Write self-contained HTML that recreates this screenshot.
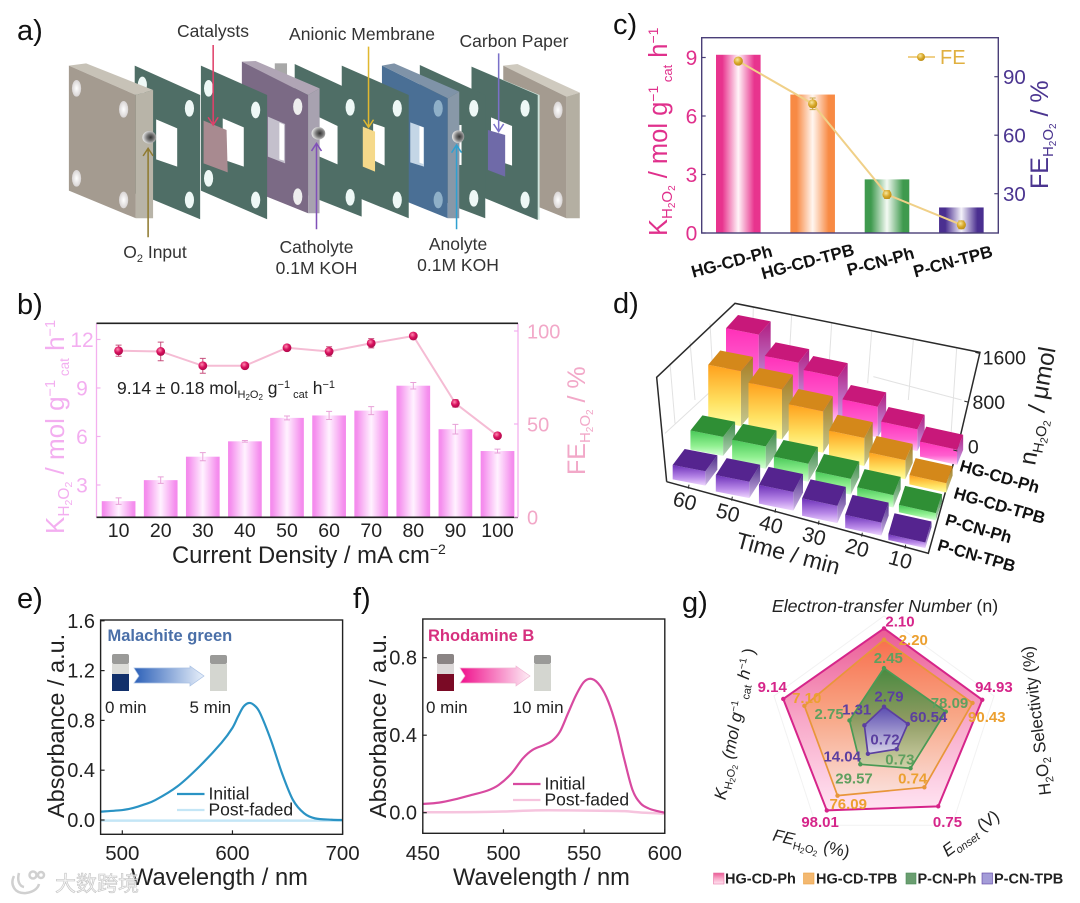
<!DOCTYPE html>
<html lang="en">
<head>
<meta charset="utf-8">
<title>H2O2 electrosynthesis composite figure</title>
<style>
html,body{margin:0;padding:0;background:#fff;}
svg{display:block;font-family:"Liberation Sans","Noto Sans CJK SC",sans-serif;}
</style>
</head>
<body>
<svg id="fig" xmlns="http://www.w3.org/2000/svg" width="1080" height="903" viewBox="0 0 1080 903">
<defs>
<linearGradient id="gb" x1="0" x2="1" y1="0" y2="0"><stop offset="0" stop-color="#f488ec"/><stop offset=".08" stop-color="#f590ee"/><stop offset=".5" stop-color="#fff2ff"/><stop offset=".92" stop-color="#f590ee"/><stop offset="1" stop-color="#f488ec"/></linearGradient>
<linearGradient id="gc0" x1="0" x2="1" y1="0" y2="0"><stop offset="0" stop-color="#e8348e"/><stop offset=".14" stop-color="#e8348e"/><stop offset=".5" stop-color="#fff4f8"/><stop offset=".86" stop-color="#e8348e"/><stop offset="1" stop-color="#e8348e"/></linearGradient>
<linearGradient id="gc1" x1="0" x2="1" y1="0" y2="0"><stop offset="0" stop-color="#f88a44"/><stop offset=".14" stop-color="#f88a44"/><stop offset=".5" stop-color="#fff6f0"/><stop offset=".86" stop-color="#f88a44"/><stop offset="1" stop-color="#f88a44"/></linearGradient>
<linearGradient id="gc2" x1="0" x2="1" y1="0" y2="0"><stop offset="0" stop-color="#3f9a4e"/><stop offset=".14" stop-color="#3f9a4e"/><stop offset=".5" stop-color="#f4faf4"/><stop offset=".86" stop-color="#3f9a4e"/><stop offset="1" stop-color="#3f9a4e"/></linearGradient>
<linearGradient id="gc3" x1="0" x2="1" y1="0" y2="0"><stop offset="0" stop-color="#4a2f90"/><stop offset=".14" stop-color="#4a2f90"/><stop offset=".5" stop-color="#f4f2fa"/><stop offset=".86" stop-color="#4a2f90"/><stop offset="1" stop-color="#4a2f90"/></linearGradient>
<radialGradient id="mb" cx=".4" cy=".35" r=".7"><stop offset="0" stop-color="#ff8ab0"/><stop offset=".5" stop-color="#d8105e"/><stop offset="1" stop-color="#a80a48"/></radialGradient>
<radialGradient id="mc" cx=".4" cy=".35" r=".7"><stop offset="0" stop-color="#f8e8a0"/><stop offset=".55" stop-color="#d8a828"/><stop offset="1" stop-color="#b88a18"/></radialGradient>
<linearGradient id="d0" x1="0" x2="0" y1="0" y2="1"><stop offset="0" stop-color="#ff30b8"/><stop offset=".6" stop-color="#ff60d0"/><stop offset="1" stop-color="#ffd0f6"/></linearGradient>
<linearGradient id="d1" x1="0" x2="0" y1="0" y2="1"><stop offset="0" stop-color="#ffa01c"/><stop offset=".6" stop-color="#ffe060"/><stop offset="1" stop-color="#ffffa0"/></linearGradient>
<linearGradient id="d2" x1="0" x2="0" y1="0" y2="1"><stop offset="0" stop-color="#48c858"/><stop offset=".6" stop-color="#90f090"/><stop offset="1" stop-color="#d8ffd8"/></linearGradient>
<linearGradient id="d3" x1="0" x2="0" y1="0" y2="1"><stop offset="0" stop-color="#6c30b8"/><stop offset=".6" stop-color="#b888e8"/><stop offset="1" stop-color="#f0d8ff"/></linearGradient>
<linearGradient id="s0" x1="0" x2="0" y1="0" y2="1"><stop offset="0" stop-color="#b01c80"/><stop offset="1" stop-color="#c8a8f0"/></linearGradient>
<linearGradient id="s1" x1="0" x2="0" y1="0" y2="1"><stop offset="0" stop-color="#a87c20"/><stop offset="1" stop-color="#c4c890"/></linearGradient>
<linearGradient id="s2" x1="0" x2="0" y1="0" y2="1"><stop offset="0" stop-color="#3a8a48"/><stop offset="1" stop-color="#b8d4b8"/></linearGradient>
<linearGradient id="s3" x1="0" x2="0" y1="0" y2="1"><stop offset="0" stop-color="#4c2c88"/><stop offset="1" stop-color="#d0b8e8"/></linearGradient>
<linearGradient id="r0" x1="0" x2="0" y1="0" y2="1"><stop offset="0" stop-color="#ea5a94"/><stop offset=".5" stop-color="#f8a8c8"/><stop offset="1" stop-color="#ffe4f2"/></linearGradient>
<linearGradient id="r1" x1="0" x2="0" y1="0" y2="1"><stop offset="0" stop-color="#f8704e"/><stop offset=".5" stop-color="#f8a888"/><stop offset="1" stop-color="#fae0dc"/></linearGradient>
<linearGradient id="r2" x1="0" x2="0" y1="0" y2="1"><stop offset="0" stop-color="#4a8a40"/><stop offset=".5" stop-color="#8c9a60"/><stop offset="1" stop-color="#d0d0a8"/></linearGradient>
<linearGradient id="r3" x1="0" x2="0" y1="0" y2="1"><stop offset="0" stop-color="#5a4cb0"/><stop offset="1" stop-color="#d8d4e8"/></linearGradient>
<linearGradient id="arrowBlue" x1="0" x2="1" y1="0" y2="0"><stop offset="0" stop-color="#2c60b8"/><stop offset="1" stop-color="#e8f0fa"/></linearGradient>
<linearGradient id="arrowPink" x1="0" x2="1" y1="0" y2="0"><stop offset="0" stop-color="#f0108c"/><stop offset="1" stop-color="#fdeef6"/></linearGradient>
<radialGradient id="hole"><stop offset="0" stop-color="#ffffff"/><stop offset="1" stop-color="#d8d4d4"/></radialGradient>
<radialGradient id="port" cx=".6" cy=".5" r=".6"><stop offset="0" stop-color="#333"/><stop offset=".45" stop-color="#777"/><stop offset="1" stop-color="#eee"/></radialGradient>
</defs>

<!-- PANEL LETTERS -->
<g font-size="29" fill="#111">
<text x="17" y="40">a)</text>
<text x="17" y="314">b)</text>
<text x="613" y="34">c)</text>
<text x="613" y="313">d)</text>
<text x="17" y="608">e)</text>
<text x="353" y="608">f)</text>
<text x="682" y="612">g)</text>
</g>

<!-- PANEL A : exploded cell diagram -->
<g transform="scale(0.3827,0.3333)">
<g>
<polygon points="1315,197 1352,192 1515,278 1480,290" fill="#cfcabf"/><polygon points="1315,197 1480,290 1480,655 1315,578" fill="#a49b90"/><polygon points="1480,290 1515,278 1515,655 1480,655" fill="#b4afa2"/>
<ellipse cx="1458" cy="330" rx="12" ry="25" fill="url(#hole)"/><ellipse cx="1458" cy="600" rx="12" ry="25" fill="url(#hole)"/>
</g>
<g>
<polygon points="1232,200 1410,285 1410,660 1232,578" fill="#cfe4dc"/><polygon points="1232,200 1405,285 1405,660 1232,578" fill="#4f6e66"/>
<ellipse cx="1372" cy="325" rx="12" ry="25" fill="#eef8f6"/><ellipse cx="1372" cy="600" rx="12" ry="25" fill="#eef8f6"/>
<polygon points="1283,352 1338,378 1338,497 1283,475" fill="#fff"/>
</g>
<polygon points="1275,390 1320,405 1320,530 1275,510" fill="#6f6aa8"/>
<g>
<polygon points="1097,195 1268,285 1268,655 1200,625 1097,570" fill="#4f6e66"/>
<ellipse cx="1238" cy="325" rx="12" ry="25" fill="#eef8f6"/><ellipse cx="1238" cy="595" rx="12" ry="25" fill="#eef8f6"/>
<rect x="1200" y="375" width="6" height="120" fill="#fff"/>
</g>
<g>
<polygon points="998,197 1030,190 1200,275 1170,295" fill="#7f93a8"/><polygon points="998,197 1170,295 1170,655 998,575" fill="#4a6f95"/><polygon points="1170,295 1200,275 1200,655 1170,655" fill="#8898a8"/>
<ellipse cx="1145" cy="325" rx="12" ry="25" fill="#8fb0c8"/><ellipse cx="1145" cy="600" rx="12" ry="25" fill="#8fb0c8"/>
<polygon points="1072,367 1108,382 1108,500 1072,487" fill="#c4d6e6"/><polygon points="1096,378 1106,382 1106,492 1096,488" fill="#fff"/>
<ellipse cx="1197" cy="410" rx="16" ry="19" fill="url(#port)"/>
</g>
<g>
<polygon points="893,197 1068,285 1068,655 950,600 893,570" fill="#4f6e66"/>
<ellipse cx="1038" cy="325" rx="12" ry="25" fill="#eef8f6"/><ellipse cx="1038" cy="600" rx="12" ry="25" fill="#eef8f6"/>
<polygon points="975,370 1005,382 1005,497 975,480" fill="#fff"/>
</g>
<polygon points="948,380 980,395 980,515 948,500" fill="#f5d98a"/>
<g>
<polygon points="770,192 945,285 945,650 835,600 770,570" fill="#4f6e66"/>
<ellipse cx="915" cy="322" rx="12" ry="25" fill="#eef8f6"/><ellipse cx="915" cy="592" rx="12" ry="25" fill="#eef8f6"/>
<polygon points="835,352 882,378 882,493 835,470" fill="#fff"/>
</g>
<g>
<rect x="718" y="190" width="32" height="35" fill="#a8a8a8"/>
<polygon points="632,185 668,183 835,265 805,285" fill="#b0a5b5"/><polygon points="632,185 805,285 805,640 632,560" fill="#7b6a85"/><polygon points="805,285 835,265 835,640 805,640" fill="#a8a2b0"/>
<ellipse cx="778" cy="320" rx="12" ry="25" fill="#eee"/><ellipse cx="778" cy="590" rx="12" ry="25" fill="#eee"/>
<polygon points="700,350 745,372 745,490 700,470" fill="#c4c0cc"/><polygon points="730,368 742,374 742,482 730,478" fill="#fff"/>
<ellipse cx="832" cy="400" rx="18" ry="19" fill="url(#port)"/>
</g>
<g>
<polygon points="525,197 698,285 698,658 525,572" fill="#4f6e66"/>
<ellipse cx="545" cy="265" rx="12" ry="25" fill="#eef8f6"/><ellipse cx="668" cy="330" rx="12" ry="25" fill="#eef8f6"/><ellipse cx="545" cy="535" rx="12" ry="25" fill="#eef8f6"/><ellipse cx="668" cy="600" rx="12" ry="25" fill="#eef8f6"/>
<polygon points="582,355 637,382 637,500 582,478" fill="#fff"/>
</g>
<polygon points="532,362 592,390 595,517 532,490" fill="#a88a90"/>
<g>
<polygon points="352,197 523,285 523,658 402,600 352,580" fill="#4f6e66"/>
<ellipse cx="372" cy="255" rx="12" ry="25" fill="#eef8f6"/><ellipse cx="495" cy="325" rx="12" ry="25" fill="#eef8f6"/><ellipse cx="495" cy="600" rx="12" ry="25" fill="#eef8f6"/>
<polygon points="408,358 463,385 463,500 408,478" fill="#fff"/>
</g>
<g>
<polygon points="180,197 225,190 400,270 355,285" fill="#c7c2b7"/><polygon points="180,197 355,285 355,655 180,572" fill="#a49b90"/><polygon points="355,285 400,270 400,655 355,655" fill="#b8b4a8"/>
<ellipse cx="200" cy="265" rx="12" ry="25" fill="url(#hole)"/><ellipse cx="323" cy="328" rx="12" ry="25" fill="url(#hole)"/><ellipse cx="200" cy="535" rx="12" ry="25" fill="url(#hole)"/><ellipse cx="323" cy="600" rx="12" ry="25" fill="url(#hole)"/>
<ellipse cx="390" cy="412" rx="18" ry="19" fill="url(#port)"/>
</g>
<g fill="none" stroke-width="4">
<path d="M387 712V445M374 468L387 445L400 468" stroke="#8f7a30"/>
<path d="M557 135V375M544 352L557 375L570 352" stroke="#e0406a"/>
<path d="M963 140V382M950 359L963 382L976 359" stroke="#e0b830"/>
<path d="M1303 160V395M1290 372L1303 395L1316 372" stroke="#7a70c8"/>
<path d="M827 688V430M814 453L827 430L840 453" stroke="#8050b8"/>
<path d="M1193 688V435M1180 458L1193 435L1206 458" stroke="#30a0d0"/>
</g>
</g>
<g font-size="17.5" fill="#333" text-anchor="middle">
<text x="213" y="37">Catalysts</text>
<text x="362" y="40">Anionic Membrane</text>
<text x="514" y="47">Carbon Paper</text>
<text x="155" y="258">O<tspan font-size="11" dy="4">2</tspan><tspan dy="-4"> Input</tspan></text>
<text x="316.500" y="253">Catholyte</text>
<text x="316.500" y="274">0.1M KOH</text>
<text x="458" y="250">Anolyte</text>
<text x="458" y="271">0.1M KOH</text>
</g>

<!-- PANEL B -->
<g id="panelB"></g>
<text x="117" y="394" font-size="17.500" fill="#222">9.14 ± 0.18 mol<tspan font-size="11" dy="4">H</tspan><tspan font-size="8" dy="2">2</tspan><tspan font-size="11" dy="-2">O</tspan><tspan font-size="8" dy="2">2</tspan><tspan dy="-6"> g</tspan><tspan font-size="11" dy="-6">−1</tspan><tspan font-size="11" dy="10"> cat</tspan><tspan dy="-4"> h</tspan><tspan font-size="11" dy="-6">−1</tspan></text>
<text transform="translate(64,534) rotate(-90)" font-size="26" fill="#f3aef0">K<tspan font-size="15.500" dy="5">H</tspan><tspan font-size="10.500" dy="3">2</tspan><tspan font-size="15.500" dy="-3">O</tspan><tspan font-size="10.500" dy="3">2</tspan><tspan dy="-8"> / mol g</tspan><tspan font-size="14.500" dy="-9">−1</tspan><tspan font-size="13.500" dy="14"> cat</tspan><tspan dy="-5"> h</tspan><tspan font-size="14.500" dy="-9">−1</tspan></text>
<text transform="translate(585,475) rotate(-90)" font-size="25" fill="#f2a8c8">FE<tspan font-size="15" dy="5">H</tspan><tspan font-size="10" dy="3">2</tspan><tspan font-size="15" dy="-3">O</tspan><tspan font-size="10" dy="3">2</tspan><tspan dy="-8"> / %</tspan></text>
<text x="172" y="563" font-size="23.800" fill="#222">Current Density / mA cm<tspan font-size="14" dy="-9">−2</tspan></text>

<!-- PANEL C -->
<g id="panelC"></g>
<text transform="translate(667,236) rotate(-90)" font-size="25.500" fill="#e0308c">K<tspan font-size="15" dy="5">H</tspan><tspan font-size="10" dy="3">2</tspan><tspan font-size="15" dy="-3">O</tspan><tspan font-size="10" dy="3">2</tspan><tspan dy="-8"> / mol g</tspan><tspan font-size="14" dy="-9">−1</tspan><tspan font-size="13" dy="14"> cat</tspan><tspan dy="-5"> h</tspan><tspan font-size="14" dy="-9">−1</tspan></text>
<text transform="translate(1048,189) rotate(-90)" font-size="25" fill="#4b3590">FE<tspan font-size="15" dy="5">H</tspan><tspan font-size="10" dy="3">2</tspan><tspan font-size="15" dy="-3">O</tspan><tspan font-size="10" dy="3">2</tspan><tspan dy="-8"> / %</tspan></text>
<g>
<line x1="908" x2="935" y1="57" y2="57" stroke="#f0d088" stroke-width="2"/>
<circle cx="921" cy="57" r="4" fill="url(#mc)"/>
<text x="940" y="64" font-size="20" fill="#e0b040">FE</text>
</g>

<!-- PANEL D -->
<g id="panelD"></g>
<g fill="#111" font-weight="bold" font-size="16.800">
<text text-anchor="middle" transform="translate(998,482) rotate(16)">HG-CD-Ph</text>
<text text-anchor="middle" transform="translate(998,511) rotate(16)">HG-CD-TPB</text>
<text text-anchor="middle" transform="translate(977,534) rotate(16)">P-CN-Ph</text>
<text text-anchor="middle" transform="translate(975,561) rotate(16)">P-CN-TPB</text>
</g>
<text text-anchor="middle" font-size="23" fill="#222" transform="translate(786,561) rotate(15)">Time / min</text>
<text transform="translate(1035,466) rotate(-80)" font-size="24" fill="#222">n<tspan font-size="14.500" dy="5">H</tspan><tspan font-size="10.500" dy="3">2</tspan><tspan font-size="14.500" dy="-3">O</tspan><tspan font-size="10.500" dy="3">2</tspan><tspan dy="-8"> / μmol</tspan></text>

<!-- PANEL E, F -->
<g id="panelE"></g>
<g id="panelF"></g>
<text transform="translate(64,818) rotate(-90)" font-size="23.500" fill="#222">Absorbance / a.u.</text>
<text transform="translate(386,818) rotate(-90)" font-size="23.500" fill="#222">Absorbance / a.u.</text>
<text x="131" y="885" font-size="23.700" fill="#222">Wavelength / nm</text>
<text x="453" y="885" font-size="23.700" fill="#222">Wavelength / nm</text>

<g>
<text x="107.500" y="641" font-size="16.500" font-weight="bold" fill="#4a6fa8">Malachite green</text>
<g><rect x="112" y="654" width="17" height="10" rx="2" fill="#9a9a98"/><rect x="112" y="664" width="17" height="27" fill="#dcdcd8"/><rect x="112" y="674" width="17" height="17" fill="#12306b"/></g>
<polygon points="134,668 190,668 190,666 204,676 190,686 190,683 134,683 139,676" fill="url(#arrowBlue)" stroke="#a8c0e4" stroke-width=".7"/>
<g><rect x="210" y="655" width="17" height="9" rx="2" fill="#9a9a98"/><rect x="210" y="664" width="17" height="27" fill="#d4d6d0"/></g>
<text x="105" y="713" font-size="17" fill="#222">0 min</text>
<text x="189.500" y="713" font-size="17" fill="#222">5 min</text>
</g>
<g>
<text x="428" y="641" font-size="16.500" font-weight="bold" fill="#d6307e">Rhodamine B</text>
<g><rect x="437" y="654" width="17" height="10" rx="2" fill="#8a8484"/><rect x="437" y="664" width="17" height="27" fill="#dcd8d8"/><rect x="437" y="674" width="17" height="17" fill="#7a0a25"/></g>
<polygon points="460,668 516,668 516,666 530,676 516,686 516,683 460,683 465,676" fill="url(#arrowPink)" stroke="#f0b8d4" stroke-width=".7"/>
<g><rect x="534" y="655" width="17" height="9" rx="2" fill="#9a9a98"/><rect x="534" y="664" width="17" height="27" fill="#d4d6d0"/></g>
<text x="426" y="713" font-size="17" fill="#222">0 min</text>
<text x="512.500" y="713" font-size="17" fill="#222">10 min</text>
</g>

<!-- PANEL G -->
<g id="panelG"></g>
<g fill="#222" font-size="17">
<text x="885" y="612" font-size="17.800" text-anchor="middle"><tspan font-style="italic">Electron-transfer Number</tspan> (n)</text>
<text text-anchor="middle" transform="translate(1042,720) rotate(-97)">H<tspan font-size="11" dy="4">2</tspan><tspan dy="-4">O</tspan><tspan font-size="11" dy="4">2</tspan><tspan dy="-4"> Selectivity (%)</tspan></text>
<text text-anchor="middle" transform="translate(974,838) rotate(-36)"><tspan font-style="italic">E</tspan><tspan font-size="11" dy="4" font-style="italic">onset</tspan><tspan dy="-4"> (V)</tspan></text>
<text text-anchor="middle" transform="translate(810,849) rotate(13)"><tspan font-style="italic">FE</tspan><tspan font-size="11" dy="4">H</tspan><tspan font-size="8" dy="2">2</tspan><tspan font-size="11" dy="-2">O</tspan><tspan font-size="8" dy="2">2</tspan><tspan dy="-6"> (%)</tspan></text>
<text text-anchor="middle" transform="translate(740,725) rotate(-79)"><tspan font-style="italic">K</tspan><tspan font-size="11" dy="4">H</tspan><tspan font-size="8" dy="2">2</tspan><tspan font-size="11" dy="-2">O</tspan><tspan font-size="8" dy="2">2</tspan><tspan dy="-6" font-style="italic"> (mol g</tspan><tspan font-size="10" dy="-6">−1</tspan><tspan font-size="11" dy="10"> cat</tspan><tspan dy="-4" font-style="italic"> h</tspan><tspan font-size="10" dy="-6">−1</tspan><tspan dy="6"> )</tspan></text>
</g>
<g font-size="14.500" font-weight="bold" fill="#222">
<rect x="713.500" y="873" width="10.500" height="11" fill="url(#r0)" stroke="#e878a8" stroke-width=".6"/>
<text x="725" y="883.500">HG-CD-Ph</text>
<rect x="803.500" y="873" width="10.500" height="11" fill="#f3b870" stroke="#eca040" stroke-width=".6"/>
<text x="816" y="883.500">HG-CD-TPB</text>
<rect x="906" y="873" width="10" height="11" fill="#6a9e70" stroke="#4a8a55" stroke-width=".6"/>
<text x="917.500" y="883.500">P-CN-Ph</text>
<rect x="982" y="873" width="10.500" height="11" fill="#a49cd8" stroke="#5b3fa0" stroke-width=".6"/>
<text x="994" y="883.500">P-CN-TPB</text>
</g>

<!-- WATERMARK -->
<g opacity=".85">
<g fill="none" stroke="#c8c8c8" stroke-width="2.500">
<path d="M14 876C10 884 14 894 26 893C34 892 38 888 39 884"/><path d="M19 873C17 880 19 886 24 887"/><circle cx="33" cy="875" r="3.500"/><circle cx="41" cy="875" r="3"/>
</g>
<text x="55" y="891" font-size="21" fill="#f4f4f4" stroke="#b8b8b8" stroke-width=".6" font-family="'Noto Sans CJK SC',sans-serif">大数跨境</text>
</g>

<script>
/* ---------- panel b data ---------- */
const bCurrentDensity = [10,20,30,40,50,60,70,80,90,100];
const bRateValues = [2.0,3.3,4.75,5.7,7.15,7.3,7.6,9.14,6.45,5.1];
const bRateErrors = [0.2,0.2,0.25,0.05,0.12,0.25,0.25,0.2,0.3,0.12];
const bFeValues = [89.4,89,81.3,81.3,91,89,93.4,97.3,61.1,43.7];
const bFeErrors = [3,5,4,1.5,1.5,2.5,2.5,1.5,2,1];
const bRateTicks = [3,6,9,12];
const bFeTicks = [0,50,100];
/* ---------- panel c data ---------- */
const cCategories = ['HG-CD-Ph','HG-CD-TPB','P-CN-Ph','P-CN-TPB'];
const cRateValues = [9.14,7.10,2.75,1.31];
const cFeValues = [98.01,76.09,29.57,14.04];
const cFeErrors = [1.5,3,2,2];
const cRateTicks = [0,3,6,9];
const cFeTicks = [30,60,90];
/* ---------- panel d data ---------- */
const dTimeLabels = ['60','50','40','30','20','10'];
const dHgCdPh = [1018,781,770,506,358,248];
const dHgCdTpb = [908,825,682,462,314,154];
const dPCnPh = [314,369,297,259,204,121];
const dPCnTpb = [237,270,308,286,215,94];
const dAmountTicks = [0,800,1600];
/* ---------- panel e data ---------- */
const eWavelengths = [480,500,510,520,530,550,570,590,600,605,610,615,620,625,635,645,655,665,675,690,700];
const eInitial = [0.067,0.08,0.097,0.125,0.16,0.27,0.43,0.62,0.74,0.83,0.91,0.94,0.92,0.86,0.64,0.375,0.16,0.054,0.013,0.002,0];
const eFaded = [-0.005,-0.005,-0.005,-0.005,-0.005,-0.005,-0.005,-0.005,-0.005,-0.005,-0.005,-0.005,-0.005,-0.005,-0.005,-0.005,-0.005,-0.005,-0.005,-0.005,-0.005];
const eXTicks = [500,600,700];
const eYTicks = [0,0.4,0.8,1.2,1.6];
/* ---------- panel f data ---------- */
const fWavelengths = [450,460,470,480,490,497,505,512,518,525,530,535,540,545,550,555,560,565,570,575,580,585,590,595,600];
const fInitial = [0.045,0.052,0.069,0.091,0.114,0.143,0.203,0.28,0.324,0.349,0.37,0.418,0.513,0.607,0.676,0.69,0.654,0.573,0.444,0.272,0.117,0.048,0.022,0.009,0];
const fFadedWl = [450,480,500,520,540,560,575,585,600];
const fFaded = [0.002,0.003,0.006,0.012,0.012,0.01,0.008,0.001,-0.005];
const fXTicks = [450,500,550,600];
const fYTicks = [0,0.4,0.8];
/* ---------- panel g data ---------- */
const gSeriesNames = ['HG-CD-Ph','HG-CD-TPB','P-CN-Ph','P-CN-TPB'];
const gHgCdPh = [2.10,94.93,0.75,98.01,9.14];
const gHgCdTpb = [2.20,90.43,0.74,76.09,7.10];
const gPCnPh = [2.45,78.09,0.73,29.57,2.75];
const gPCnTpb = [2.79,60.54,0.72,14.04,1.31];
const gAxisCenterValue = [3.01,49.54,0.7108,-18.8,-0.585];
const gAxisRimValue = [2.10,94.93,0.7547,105.2,8.9];

const NS = 'http://www.w3.org/2000/svg';
function mk(tag, attrs, parent){
  const e = document.createElementNS(NS, tag);
  for (const k in attrs) e.setAttribute(k, attrs[k]);
  if (parent) parent.appendChild(e);
  return e;
}
function label(parent, x, y, str, size, fill, anchor, weight){
  const t = mk('text', {x:x, y:y, 'font-size':size, fill:fill, 'text-anchor':anchor||'middle'}, parent);
  if (weight) t.setAttribute('font-weight', weight);
  t.textContent = str;
  return t;
}
function smooth(pts){
  let d = 'M' + pts[0][0].toFixed(2) + ' ' + pts[0][1].toFixed(2);
  for (let i = 0; i < pts.length - 1; i++){
    const p0 = pts[i-1] || pts[i], p1 = pts[i], p2 = pts[i+1], p3 = pts[i+2] || p2;
    d += 'C' + (p1[0]+(p2[0]-p0[0])/6).toFixed(2) + ' ' + (p1[1]+(p2[1]-p0[1])/6).toFixed(2) + ' ' +
         (p2[0]-(p3[0]-p1[0])/6).toFixed(2) + ' ' + (p2[1]-(p3[1]-p1[1])/6).toFixed(2) + ' ' +
         p2[0].toFixed(2) + ' ' + p2[1].toFixed(2);
  }
  return d;
}

/* ---------- panel b ---------- */
(function(){
  const g = document.getElementById('panelB');
  const L = 96.5, R = 518, T = 323.3, B = 517.3;
  const xB = i => 118.6 + i * 42.1;
  const yRate = v => 533.5 - v * 16.17;
  const yFe = v => 517 - v * 1.86;
  const spineL = mk('line', {x1:L, x2:L, y1:T, y2:B, stroke:'#f3b0ef', 'stroke-width':1.3}, g);
  
  
  const spineR = mk('line', {x1:R, x2:R, y1:T, y2:B, stroke:'#f3b0ef', 'stroke-width':1.3}, g);
  
  
  bRateValues.forEach((v, i) => {
    const bar = mk('rect', {x:xB(i)-16.85, y:yRate(v), width:33.7, height:B-yRate(v), fill:'url(#gb)'}, g);
    
    
    const e = bRateErrors[i], x = xB(i);
    const err = mk('path', {d:'M'+(x-3)+' '+yRate(v+e)+'H'+(x+3)+'M'+x+' '+yRate(v+e)+'V'+yRate(v-e)+'M'+(x-3)+' '+yRate(v-e)+'H'+(x+3), stroke:'#e8a0d8', fill:'none', 'stroke-width':1}, g);
    
    
    const tl = label(g, x, 537, String(bCurrentDensity[i]), 19.5, '#222');
    
    
  });
  const top = mk('line', {x1:L, x2:R, y1:T, y2:T, stroke:'#222', 'stroke-width':1.6}, g);
  
  
  const bot = mk('line', {x1:L, x2:R, y1:B, y2:B, stroke:'#222', 'stroke-width':1.6}, g);
  
  
  bRateTicks.forEach(v => {
    const tk = mk('line', {x1:L, x2:L+4, y1:yRate(v), y2:yRate(v), stroke:'#f3b0ef', 'stroke-width':1.2}, g);
    
    
    const t = label(g, 82, yRate(v)+7.5, String(v), 21, '#f3aef0');
    
    
  });
  bFeTicks.forEach(v => {
    const tk = mk('line', {x1:R-4, x2:R, y1:yFe(v), y2:yFe(v), stroke:'#f3b0ef', 'stroke-width':1.2}, g);
    
    
    const t = label(g, 527, yFe(v)+7.5, String(v), 20, '#f2a8c8', 'start');
    
    
  });
  const line = mk('polyline', {points:bFeValues.map((v,i)=>xB(i)+','+yFe(v)).join(' '), fill:'none', stroke:'#f5bcd4', 'stroke-width':2}, g);
  
  
  bFeValues.forEach((v, i) => {
    const x = xB(i), e = bFeErrors[i];
    const err = mk('path', {d:'M'+(x-3)+' '+yFe(v+e)+'H'+(x+3)+'M'+x+' '+yFe(v+e)+'V'+yFe(v-e)+'M'+(x-3)+' '+yFe(v-e)+'H'+(x+3), stroke:'#c8507e', fill:'none', 'stroke-width':1}, g);
    
    
    const m = mk('circle', {cx:x, cy:yFe(v), r:4.4, fill:'url(#mb)'}, g);
    
    
  });
})();

/* ---------- panel c ---------- */
(function(){
  const g = document.getElementById('panelC');
  const L = 701.7, R = 998.3, T = 37.7, B = 233;
  const xC = i => 738.3 + i * 74.35;
  const yRate = v => 233 - v * 19.5;
  const yFe = v => 193.7 - (v - 30) * 1.95;
  const labelShift = [-5,-3.500,-5,-7];
  cRateValues.forEach((v, i) => {
    const bar = mk('rect', {x:xC(i)-22.3, y:yRate(v), width:44.6, height:B-yRate(v), fill:'url(#gc'+i+')'}, g);
    
    
    const t = mk('text', {'text-anchor':'middle', 'font-size':17, 'font-weight':'bold', fill:'#111', transform:'translate('+(xC(i)+labelShift[i])+',267) rotate(-15)'}, g);
    t.textContent = cCategories[i];
    
    
  });
  const box = mk('rect', {x:L, y:T, width:R-L, height:B-T, fill:'none', stroke:'#4a3f78', 'stroke-width':1.4}, g);
  
  
  cRateTicks.forEach(v => {
    const tk = mk('line', {x1:L, x2:L+4, y1:yRate(v), y2:yRate(v), stroke:'#4a3f78', 'stroke-width':1.2}, g);
    
    
    const t = label(g, 691.5, yRate(v)+7.5, String(v), 21, '#e0308c');
    
    
  });
  cFeTicks.forEach(v => {
    const tk = mk('line', {x1:R-4, x2:R, y1:yFe(v), y2:yFe(v), stroke:'#4a3f78', 'stroke-width':1.2}, g);
    
    
    const t = label(g, 1003, yFe(v)+7.5, String(v), 20.5, '#4b3590', 'start');
    
    
  });
  const line = mk('polyline', {points:cFeValues.map((v,i)=>xC(i)+','+yFe(v)).join(' '), fill:'none', stroke:'#f0d088', 'stroke-width':2}, g);
  
  
  cFeValues.forEach((v, i) => {
    const x = xC(i), e = cFeErrors[i];
    const err = mk('path', {d:'M'+(x-3)+' '+yFe(v+e)+'H'+(x+3)+'M'+x+' '+yFe(v+e)+'V'+yFe(v-e)+'M'+(x-3)+' '+yFe(v-e)+'H'+(x+3), stroke:'#c8a848', fill:'none', 'stroke-width':1}, g);
    
    
    const m = mk('circle', {cx:x, cy:yFe(v), r:4.6, fill:'url(#mc)'}, g);
    
    
  });
})();

/* ---------- panel d ---------- */
(function(){
  const outer = document.getElementById('panelD');
  const g = mk('g', {transform:'translate(600,290) scale(0.33333)'}, outer);
  
  
  const grid = [[460,52,455,240],[575,75,565,250],[695,100,685,260],[815,125,803,280],[940,150,925,330],[1070,175,1050,480],[210,220,225,400],[270,155,285,330],[330,100,340,280],[195,430,380,260],[820,260,1085,330]];
  const wall = mk('path', {d:grid.map(l=>'M'+l[0]+' '+l[1]+'L'+l[2]+' '+l[3]).join(''), stroke:'#e2e2e2', 'stroke-width':3, fill:'none'}, g);
  
  
  const frame = mk('path', {d:'M200 575L170 262L405 40L1140 187L1070 485L985 790L200 575', fill:'none', stroke:'#2a2a2a', 'stroke-width':4.5}, g);
  
  
  const base = (c, r) => {
    const u = c / 5, v = r / 3;
    return [
      218*(1-u)*(1-v) + 865*u*(1-v) + 378*(1-u)*v + 960*u*v,
      568*(1-u)*(1-v) + 750*u*(1-v) + 300*(1-u)*v + 500*u*v
    ];
  };
  const zPx = v => v / 5.5;
  const rows = [dPCnTpb, dPCnPh, dHgCdTpb, dHgCdPh];
  const tops = ['#55248f','#2f8f35','#d4881a','#c8187a'];
  const grads = ['3','2','1','0'];
  for (let r = 3; r >= 0; r--){
    rows[r].forEach((val, c) => {
      const b = base(c, r), h = zPx(val);
      const w = [98 + 2.6*c, 19 + 1.1*c];
      const d = [36 - 3.5*c, -(48 + 3*c - r*(2.7 + 0.66*c))];
      const A = [b[0], b[1]-h], Bq = [A[0]+w[0], A[1]+w[1]], C = [Bq[0]+d[0], Bq[1]+d[1]], D = [A[0]+d[0], A[1]+d[1]];
      const A0 = b, B0 = [b[0]+w[0], b[1]+w[1]], C0 = [B0[0]+d[0], B0[1]+d[1]];
      const pts = a => a.map(p => p[0].toFixed(1)+','+p[1].toFixed(1)).join(' ');
      const side = mk('polygon', {points:pts([Bq,C,C0,B0]), fill:'url(#s'+grads[r]+')'}, g);
      
      
      const front = mk('polygon', {points:pts([A,Bq,B0,A0]), fill:'url(#d'+grads[r]+')'}, g);
      
      
      const top = mk('polygon', {points:pts([A,Bq,C,D]), fill:tops[r]}, g);
      
      
    });
  }
  dTimeLabels.forEach((t, c) => {
    const x = 265 + c * 130, y = 598 + c * 36;
    const tk = mk('line', {x1:x, y1:y-2, x2:x+2, y2:y-14, stroke:'#2a2a2a', 'stroke-width':3}, g);
    
    
    const lbl = mk('text', {'text-anchor':'middle', 'font-size':21, fill:'#222', transform:'translate('+(683+c*43.1)+','+(508+c*11.7)+') rotate(15)'}, outer);
    lbl.textContent = t;
    
    
  });
  const zx = v => 1072 + v / 1600 * 66, zy = v => 483 - v / 1600 * 293;
  dAmountTicks.forEach(v => {
    const tk = mk('line', {x1:zx(v), y1:zy(v), x2:zx(v)-12, y2:zy(v)-3, stroke:'#2a2a2a', 'stroke-width':3}, g);
    
    
    const lbl = label(outer, 600 + (zx(v) + 48 + v/1600*27)/3, 290 + (zy(v) - 13 + v/1600*26)/3 + 7, String(v), 19.5, '#222');
    
    
  });
})();

/* ---------- panels e + f ---------- */
function spectrum(g, prefix, L, R, T, B, xMap, yMap, xTicks, yTicks, digitsY, yLabelX, legendLineX, legendY, colA, colB, seriesA, seriesB){
  const clipId = 'clip-' + prefix;
  const cp = mk('clipPath', {id:clipId}, g);
  mk('rect', {x:L, y:T, width:R-L, height:B-T}, cp);
  const fade = mk('path', {d:smooth(seriesB), fill:'none', stroke:colB, 'stroke-width':2.5, 'clip-path':'url(#'+clipId+')'}, g);
  
  
  const init = mk('path', {d:smooth(seriesA), fill:'none', stroke:colA, 'stroke-width':2.2, 'clip-path':'url(#'+clipId+')'}, g);
  
  
  const box = mk('rect', {x:L, y:T, width:R-L, height:B-T, fill:'none', stroke:'#222', 'stroke-width':1.4}, g);
  
  
  xTicks.forEach(v => {
    const tk = mk('line', {x1:xMap(v), x2:xMap(v), y1:B-4, y2:B, stroke:'#222', 'stroke-width':1.2}, g);
    
    
    const t = label(g, xMap(v), 860, String(v), 20.5, '#222');
    
    
  });
  yTicks.forEach(v => {
    const tk = mk('line', {x1:L, x2:L+4, y1:yMap(v), y2:yMap(v), stroke:'#222', 'stroke-width':1.2}, g);
    
    
    const t = label(g, yLabelX, yMap(v)+7, v.toFixed(digitsY), 20, '#222', 'end');
    
    
  });
  const l1 = mk('line', {x1:legendLineX, x2:legendLineX+27.5, y1:legendY, y2:legendY, stroke:colA, 'stroke-width':2.2}, g);
  
  
  const t1 = label(g, legendLineX+31.5, legendY+5.5, 'Initial', 17.5, '#222', 'start');
  
  
  const l2 = mk('line', {x1:legendLineX, x2:legendLineX+27.5, y1:legendY+16, y2:legendY+16, stroke:colB, 'stroke-width':2.2}, g);
  
  
  const t2 = label(g, legendLineX+31.5, legendY+21.5, 'Post-faded', 17.5, '#222', 'start');
  
  
}
(function(){
  const xE = w => 122.3 + (w - 500) * 1.1015;
  const yE = a => 820 - a * 124.5;
  spectrum(document.getElementById('panelE'), 'e', 100.6, 342.6, 620, 834.3, xE, yE, eXTicks, eYTicks, 1, 95, 177, 794, '#2a93c4', '#c4e6f6',
    eWavelengths.map((w,i)=>[xE(w), yE(eInitial[i])]), eWavelengths.map((w,i)=>[xE(w), yE(eFaded[i])]));
  const xF = w => 422.8 + (w - 450) * 1.6133;
  const yF = a => 812.7 - a * 193.75;
  spectrum(document.getElementById('panelF'), 'f', 422.8, 664.8, 619, 833.3, xF, yF, fXTicks, fYTicks, 1, 417, 513, 784, '#d84aa0', '#f6c4de',
    fWavelengths.map((w,i)=>[xF(w), yF(fInitial[i])]), fFadedWl.map((w,i)=>[xF(w), yF(fFaded[i])]));
})();

/* ---------- panel g ---------- */
(function(){
  const g = document.getElementById('panelG');
  const cx = 884, cy = 731.7, R = 103.3;
  const angles = [-90,-18,54,126,198].map(a => a * Math.PI / 180);
  const rad = (axis, v) => R * (v - gAxisCenterValue[axis]) / (gAxisRimValue[axis] - gAxisCenterValue[axis]);
  const pt = (axis, v) => [cx + rad(axis, v) * Math.cos(angles[axis]), cy + rad(axis, v) * Math.sin(angles[axis])];
  [1.12, 0.9, 0.68, 0.46].forEach(f => {
    const p = mk('polygon', {points:angles.map(a => (cx+R*f*Math.cos(a))+','+(cy+R*f*Math.sin(a))).join(' '), fill:'none', stroke:'#f2f2f2', 'stroke-width':1}, g);
    
    
  });
  const series = [gHgCdPh, gHgCdTpb, gPCnPh, gPCnTpb];
  const strokes = ['#d6258a','#e8963a','#4a9a55','#5b3fa0'];
  const labelCol = ['#d6258a','#eca030','#5fa05f','#5b3fa0'];
  const offsets = [
    [[16,-7.3],[11.7,-13],[9.3,15.3],[-6.7,11.3],[-11,-12.3]],
    [[29.3,-0.3],[14.3,13.7],[-11.7,-9],[10.7,7.7],[2.3,-8.3]],
    [[4.3,-10.3],[3.7,-9],[-10.7,-9.3],[-6.3,14],[-20.3,-7]],
    [[5,-10.7],[20.7,-7.3],[-11.7,-10.3],[-25.7,2.3],[-7.7,-16]]
  ];
  series.forEach((vals, s) => {
    const poly = mk('polygon', {points:vals.map((v,a)=>pt(a,v).map(n=>n.toFixed(2)).join(',')).join(' '), fill:'url(#r'+s+')', stroke:strokes[s], 'stroke-width':s===0?2:1.7, 'stroke-linejoin':'round'}, g);
    
    
  });
  series.forEach((vals, s) => {
    vals.forEach((v, a) => {
      const p = pt(a, v);
      const m = mk('circle', {cx:p[0], cy:p[1], r:2.2, fill:strokes[s]}, g);
      
      
    });
  });
  series.forEach((vals, s) => {
    vals.forEach((v, a) => {
      const p = pt(a, v);
      const t = label(g, p[0]+offsets[s][a][0], p[1]+offsets[s][a][1]+5.4, v.toFixed(2), 15, labelCol[s], 'middle', 'bold');
      
      
    });
  });
})();
</script>
</svg>
</body>
</html>
